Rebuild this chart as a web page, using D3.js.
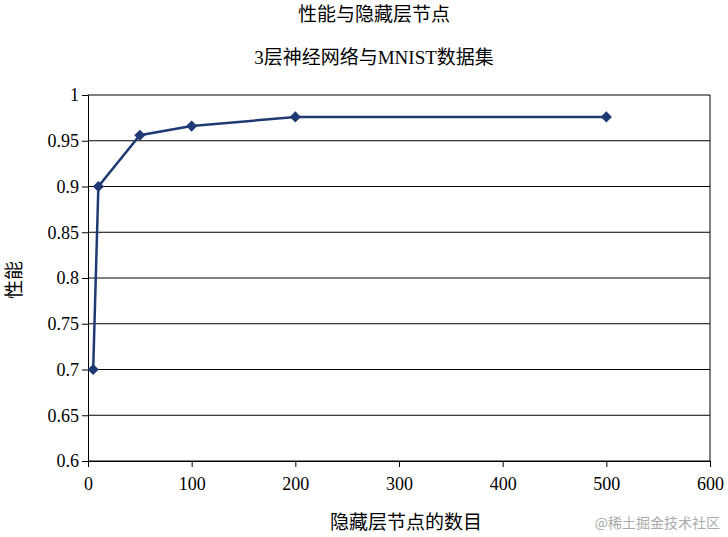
<!DOCTYPE html>
<html><head><meta charset="utf-8">
<script src="https://cdn.jsdelivr.net/npm/d3@7"></script>
<style>
body{margin:0;background:#fff;}
text{font-family:"Liberation Serif","Times New Roman","DejaVu Serif","Noto Sans CJK SC",serif;fill:#000;}
</style></head>
<body><div id="wrapper"></div>
<script>
const hiddenNodes = [5, 10, 50, 100, 200, 500];
const performance = [0.70, 0.90, 0.956, 0.966, 0.976, 0.976];
const xTicks = [0, 100, 200, 300, 400, 500, 600];
const yTicks = [0.6, 0.65, 0.7, 0.75, 0.8, 0.85, 0.9, 0.95, 1];

const width = 728, height = 537;
const margin = {top: 95, right: 18, bottom: 76, left: 88};
const bw = width - margin.left - margin.right;
const bh = height - margin.top - margin.bottom;

const svg = d3.select('#wrapper').append('svg').attr('width', width).attr('height', height);
const bounds = svg.append('g').attr('transform', `translate(${margin.left},${margin.top})`);

const x = d3.scaleLinear().domain([0, 600]).range([0, bw]);
const y = d3.scaleLinear().domain([0.6, 1]).range([bh, 0]);

bounds.selectAll('.grid').data(yTicks).enter().append('line')
  .attr('x1', 0).attr('x2', bw)
  .attr('y1', d => y(d)).attr('y2', d => y(d))
  .attr('stroke', '#000').attr('stroke-width', 1);
bounds.append('line').attr('x1', bw).attr('x2', bw).attr('y1', 0).attr('y2', bh).attr('stroke', '#000');

const xAxis = bounds.append('g').attr('transform', `translate(0,${bh})`)
  .call(d3.axisBottom(x).tickValues(xTicks).tickSize(6).tickFormat(d3.format('d')));
const yAxis = bounds.append('g')
  .call(d3.axisLeft(y).tickValues(yTicks).tickSize(6).tickFormat(d => String(+d.toFixed(2))));
[xAxis, yAxis].forEach(a => {
  a.attr('font-family', null).attr('font-size', null);
  a.selectAll('path,line').attr('stroke', '#000');
  a.selectAll('text').style('font-size', '18px');
});
xAxis.selectAll('text').attr('dy', '1.1em');

const pts = hiddenNodes.map((d, i) => [d, performance[i]]);
bounds.append('path').datum(pts)
  .attr('d', d3.line().x(d => x(d[0])).y(d => y(d[1])))
  .attr('fill', 'none').attr('stroke', '#1f3a73').attr('stroke-width', 2.5);
bounds.selectAll('.pt').data(pts).enter().append('path')
  .attr('d', d3.symbol(d3.symbolDiamond2, 80))
  .attr('transform', d => `translate(${x(d[0])},${y(d[1])})`)
  .attr('fill', '#1f3a73');

svg.append('text').attr('x', 374).attr('y', 21).attr('text-anchor', 'middle').style('font-size', '19px').text('性能与隐藏层节点');
svg.append('text').attr('x', 374).attr('y', 64).attr('text-anchor', 'middle').style('font-size', '19px').text('3层神经网络与MNIST数据集');
svg.append('text').attr('x', 406).attr('y', 529).attr('text-anchor', 'middle').style('font-size', '19px').text('隐藏层节点的数目');
svg.append('text').attr('transform', 'translate(21,280) rotate(-90)').attr('text-anchor', 'middle').style('font-size', '19px').text('性能');
svg.append('text').attr('x', 720).attr('y', 528).attr('text-anchor', 'end')
  .style('font-size', '14px').style('font-family', '"Noto Sans CJK SC",sans-serif').style('fill', '#aaa').text('@稀土掘金技术社区');
</script></body></html>
